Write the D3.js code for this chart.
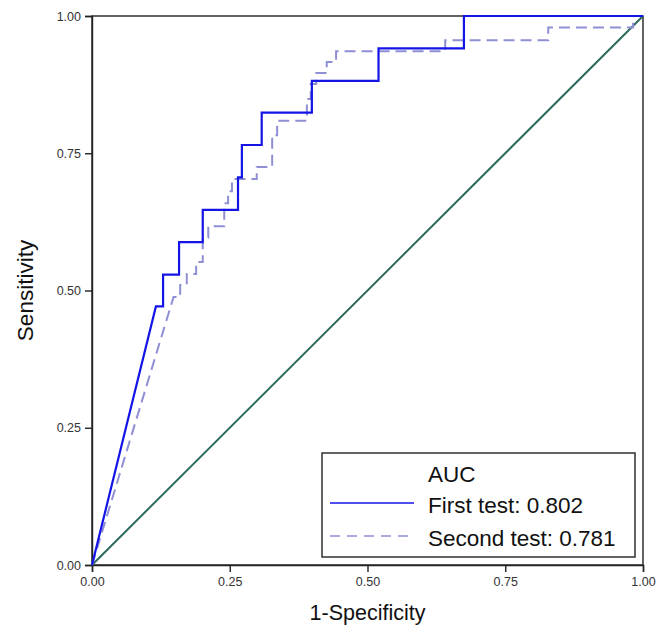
<!DOCTYPE html>
<html>
<head>
<meta charset="utf-8">
<script src="https://cdn.jsdelivr.net/npm/d3@7"></script>
<style>
  body { margin: 0; background: #fff; }
  svg { display: block; font-family: "Liberation Sans", Arial, sans-serif; }
</style>
</head>
<body>
<svg></svg>
<script>
// ROC step curve vertices (1-specificity, sensitivity)
let fpr1 = [0, 0.116, 0.129, 0.129, 0.158, 0.158, 0.201, 0.201, 0.265, 0.265, 0.272, 0.272,
  0.308, 0.308, 0.399, 0.399, 0.52, 0.52, 0.675, 0.675, 1];
let tpr1 = [0, 0.471, 0.471, 0.529, 0.529, 0.588, 0.588, 0.647, 0.647, 0.706, 0.706, 0.765,
  0.765, 0.824, 0.824, 0.882, 0.882, 0.941, 0.941, 1, 1];

let fpr2 = [0, 0.148, 0.16, 0.16, 0.172, 0.172, 0.189, 0.189, 0.201, 0.201, 0.211, 0.211,
  0.24, 0.24, 0.247, 0.247, 0.254, 0.254, 0.299, 0.299, 0.327, 0.327, 0.336, 0.336,
  0.39, 0.39, 0.397, 0.397, 0.407, 0.407, 0.426, 0.426, 0.443, 0.443, 0.641, 0.641,
  0.828, 0.828, 0.982, 0.982, 1];
let tpr2 = [0, 0.488, 0.488, 0.51, 0.51, 0.53, 0.53, 0.552, 0.552, 0.596, 0.596, 0.617,
  0.617, 0.659, 0.659, 0.681, 0.681, 0.703, 0.703, 0.725, 0.725, 0.783, 0.783, 0.809,
  0.809, 0.849, 0.849, 0.876, 0.876, 0.896, 0.896, 0.916, 0.916, 0.936, 0.936, 0.956,
  0.956, 0.979, 0.979, 1, 1];

let refX = [0, 1];
let refY = [0, 1];

let ticks = [0, 0.25, 0.5, 0.75, 1];
let legendTitle = "AUC";
let legendLabels = ["First test: 0.802", "Second test: 0.781"];

let width = 665;
let height = 625;
let plotLeft = 92, plotRight = 643, plotTop = 16, plotBottom = 565;

let svg = d3.select("svg").attr("width", width).attr("height", height);

let xScale = d3.scaleLinear().domain([0, 1]).range([plotLeft, plotRight]);
let yScale = d3.scaleLinear().domain([0, 1]).range([plotBottom, plotTop]);

// frame
svg.append("rect")
  .attr("x", plotLeft).attr("y", plotTop)
  .attr("width", plotRight - plotLeft).attr("height", plotBottom - plotTop)
  .attr("fill", "none").attr("stroke", "#222").attr("stroke-width", 1.4);

let xAxis = d3.axisBottom(xScale).tickValues(ticks).tickFormat(d3.format(".2f")).tickSizeOuter(0).tickSize(7).tickPadding(5);
let yAxis = d3.axisLeft(yScale).tickValues(ticks).tickFormat(d3.format(".2f")).tickSizeOuter(0).tickSize(7).tickPadding(4);

let gx = svg.append("g").attr("transform", "translate(0," + plotBottom + ")").call(xAxis);
let gy = svg.append("g").attr("transform", "translate(" + plotLeft + ",0)").call(yAxis);
[gx, gy].forEach((g) => {
  g.select(".domain").attr("stroke", "#222").attr("stroke-width", 1.4);
  g.selectAll(".tick line").attr("stroke", "#222").attr("stroke-width", 1.4);
  g.selectAll(".tick text").attr("font-size", 12.5).attr("fill", "#333")
    .attr("font-family", "Liberation Sans, Arial, sans-serif");
});

let line = (xs, ys) => d3.line().x((d, i) => xScale(xs[i])).y((d, i) => yScale(ys[i]))(xs);

svg.append("path").attr("d", line(refX, refY))
  .attr("fill", "none").attr("stroke", "#2d6a5f").attr("stroke-width", 2);

svg.append("path").attr("d", line(fpr2, tpr2))
  .attr("fill", "none").attr("stroke", "#8f8fd6").attr("stroke-width", 2)
  .attr("stroke-dasharray", "11,6");

svg.append("path").attr("d", line(fpr1, tpr1))
  .attr("fill", "none").attr("stroke", "#1414e6").attr("stroke-width", 2.2);

// axis titles
svg.append("text").attr("x", (plotLeft + plotRight) / 2).attr("y", 620)
  .attr("text-anchor", "middle").attr("font-size", 21.5).attr("fill", "#111")
  .text("1-Specificity");
svg.append("text")
  .attr("transform", "translate(33," + (plotTop + plotBottom) / 2 + ") rotate(-90)")
  .attr("text-anchor", "middle").attr("font-size", 22.5).attr("fill", "#111")
  .text("Sensitivity");

// legend
let lg = svg.append("g");
lg.append("rect").attr("x", 322).attr("y", 453).attr("width", 313).attr("height", 104)
  .attr("fill", "#fff").attr("stroke", "#222").attr("stroke-width", 1.4);
lg.append("text").attr("x", 428).attr("y", 482).attr("font-size", 22.5).attr("fill", "#111").text(legendTitle);
let styles = [
  { stroke: "#1414e6", dash: null },
  { stroke: "#8f8fd6", dash: "10,7" },
];
legendLabels.forEach((lab, i) => {
  let y = 503 + i * 33;
  lg.append("line").attr("x1", 330).attr("x2", 414).attr("y1", y).attr("y2", y)
    .attr("stroke", styles[i].stroke).attr("stroke-width", 1.6)
    .attr("stroke-dasharray", styles[i].dash);
  lg.append("text").attr("x", 428).attr("y", y + 10).attr("font-size", 22.5).attr("fill", "#111").text(lab);
});
</script>
</body>
</html>
